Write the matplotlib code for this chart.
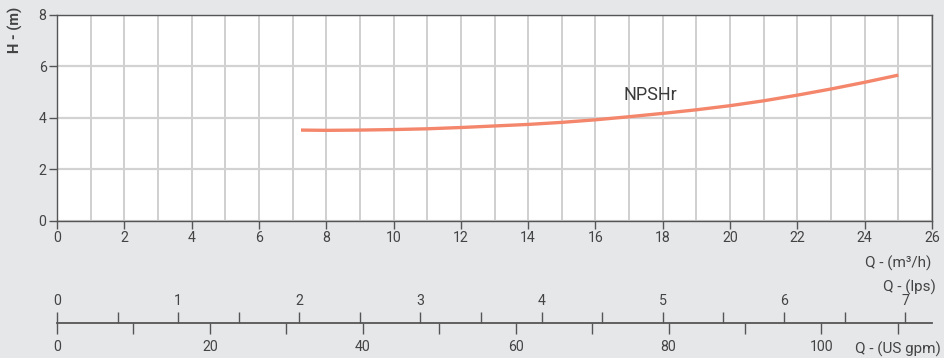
import matplotlib
matplotlib.use("Agg")
import matplotlib.pyplot as plt
from matplotlib.ticker import MultipleLocator, FixedLocator

plt.rcParams['font.family'] = ['Roboto', 'DejaVu Sans']

# Data
q_m3h = [7.25, 8, 9, 10, 11, 12, 13, 14, 15, 16, 17, 18, 19, 20, 21, 22, 23, 24, 25]
npshr = [3.52, 3.51, 3.52, 3.54, 3.57, 3.62, 3.68, 3.74, 3.82, 3.92, 4.04, 4.17,
         4.31, 4.47, 4.66, 4.88, 5.12, 5.38, 5.66]
curve_label = "NPSHr"
x_max = 26
y_max = 8
lps_major = [0, 1, 2, 3, 4, 5, 6, 7]
lps_minor = [0.5, 1.5, 2.5, 3.5, 4.5, 5.5, 6.5]
gpm_major = [0, 20, 40, 60, 80, 100]
gpm_minor = [10, 30, 50, 70, 90, 110]
LPS_PER_M3H = 1 / 3.6
GPM_PER_LPS = 15.850

BG = '#e6e7e9'
TXT = '#444444'
GRID = '#cbcbcb'
CURVE = '#f4866c'

fig = plt.figure(figsize=(9.45, 3.58), dpi=100, facecolor=BG)
left, right = 57 / 945, 932 / 945
bottom, top = 1 - 220.5 / 358, 1 - 15 / 358
ax = fig.add_axes([left, bottom, right - left, top - bottom])
ax.set_facecolor('white')
ax.set_xlim(0, x_max)
ax.set_ylim(0, y_max)
ax.xaxis.set_major_locator(MultipleLocator(2))
ax.xaxis.set_minor_locator(MultipleLocator(1))
ax.yaxis.set_major_locator(MultipleLocator(2))
ax.grid(which='major', axis='y', color='#d2d2d2', lw=1.6)
ax.grid(which='both', axis='x', color=GRID, lw=1.3)
ax.set_axisbelow(True)
for s in ax.spines.values():
    s.set_color('#555555')
    s.set_linewidth(1.0)
ax.tick_params(axis='both', which='major', length=5.5, width=1.0, color='#555555',
               labelcolor=TXT, labelsize=10.2, pad=2)
ax.tick_params(axis='x', which='minor', length=0)

ax.plot(q_m3h, npshr, color=CURVE, lw=2.4, solid_capstyle='butt', zorder=3)
ax.text(16.82, 4.87, curve_label, fontsize=13, color='#3a3a3a', va='center', ha='left')

fig.text(15 / 945, 1 - 30 / 358, 'H - (m)', rotation=90, ha='center', va='center',
         fontsize=10.5, color=TXT, fontweight='bold')
fig.text(931 / 945, 1 - 263 / 358, 'Q - (m³/h)', ha='right', va='center',
         fontsize=11, color=TXT)

# Secondary flow axes (lps above, US gpm below)
line_y = 1 - 323 / 358
ax2 = fig.add_axes([left, line_y, right - left, 0.0001])
ax2.set_facecolor('none')
ax2.set_xlim(0, x_max * LPS_PER_M3H)
ax2.set_yticks([])
for side in ['left', 'right', 'top']:
    ax2.spines[side].set_visible(False)
ax2.spines['bottom'].set_color('#555555')
ax2.spines['bottom'].set_linewidth(1.3)
ax2.xaxis.tick_top()
ax2.xaxis.set_major_locator(FixedLocator(lps_major))
ax2.xaxis.set_minor_locator(FixedLocator(lps_minor))
ax2.tick_params(axis='x', which='both', direction='out', length=8, width=1.0,
                color='#555555', labelcolor=TXT, labelsize=10.2, pad=3)

sec = ax2.secondary_xaxis('bottom', functions=(lambda v: v * GPM_PER_LPS,
                                                lambda v: v / GPM_PER_LPS))
sec.xaxis.set_major_locator(FixedLocator(gpm_major))
sec.xaxis.set_minor_locator(FixedLocator(gpm_minor))
sec.spines['bottom'].set_visible(False)
sec.tick_params(axis='x', which='both', direction='out', length=8, width=1.0,
                color='#555555', labelcolor=TXT, labelsize=10.2, pad=4)

fig.text(936 / 945, 1 - 287 / 358, 'Q - (lps)', ha='right', va='center',
         fontsize=11, color=TXT)
fig.text(941 / 945, 1 - 349 / 358, 'Q - (US gpm)', ha='right', va='center',
         fontsize=11, color=TXT)

fig.savefig('out.png', dpi=100, facecolor=BG)
